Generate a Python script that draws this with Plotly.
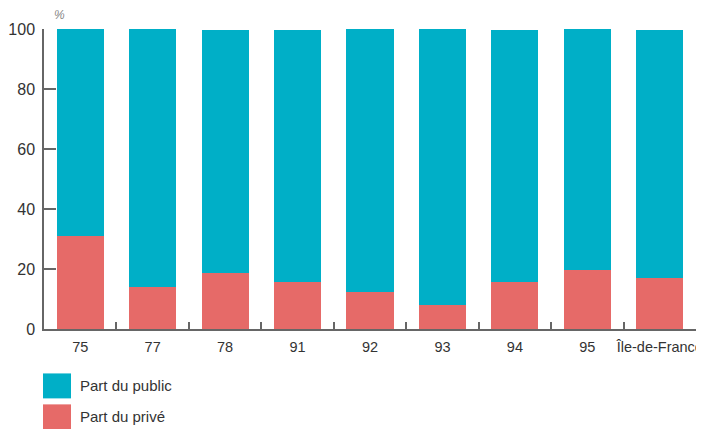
import plotly.graph_objects as go

categories = ["75", "77", "78", "91", "92", "93", "94", "95", "Île-de-France"]
prive = [31.1, 14.0, 18.7, 15.8, 12.4, 8.0, 15.8, 19.8, 17.1]
public = [68.9, 86.0, 81.0, 83.9, 87.6, 92.0, 83.9, 80.2, 82.6]
series_names = ["Part du public", "Part du privé"]
y_ticks = [0, 20, 40, 60, 80, 100]

TEAL = "#00AFC7"
RED = "#E66A68"
FONT = "Liberation Sans, Arial"
TXT = "#333333"
AX = "#666666"

# page body has an 8px default margin; lay out the figure to compensate
OFF = 8
W, H = 704 - OFF, 429 - OFF
ml, mr, mt, mb = 44 - OFF, 7.5, 29 - OFF, 99.5

fig = go.Figure()
fig.add_trace(go.Bar(x=categories, y=prive, name=series_names[1], marker=dict(color=RED, line=dict(width=0)), showlegend=False))
fig.add_trace(go.Bar(x=categories, y=public, name=series_names[0], marker=dict(color=TEAL, line=dict(width=0)), showlegend=False))

fig.update_layout(
    width=W, height=H, barmode="stack", bargap=0.35,
    margin=dict(l=ml, r=mr, t=mt, b=mb, autoexpand=False),
    paper_bgcolor="white", plot_bgcolor="white",
    font=dict(family=FONT, size=16, color=TXT),
)
fig.update_xaxes(
    type="category", showline=True, linecolor=AX, linewidth=1.5,
    ticks="inside", ticklen=7, tickcolor=AX, tickwidth=1.5, tickson="boundaries",
    showgrid=False, tickfont=dict(size=14.5, color=TXT), tickangle=0, automargin=False,
    ticklabelstandoff=4,
)
fig.update_yaxes(
    range=[0, 100], tickvals=y_ticks, showline=True, linecolor=AX, linewidth=1.5,
    ticks="inside", ticklen=12, tickcolor=AX, tickwidth=1.5,
    showgrid=False, zeroline=False, tickfont=dict(size=16, color=TXT), automargin=False,
    ticklabelstandoff=4,
)

pw = W - ml - mr
ph = H - mt - mb
def px(x):  # x in screen pixels of the reference
    return (x - OFF - ml) / pw
def py(y):
    return (H - mb - (y - OFF)) / ph

fig.add_annotation(text="<i>%</i>", xref="paper", yref="paper", x=px(52), y=py(15),
                   xanchor="left", yanchor="middle", showarrow=False,
                   font=dict(size=12, color="#888888", family=FONT))

legend_items = [(series_names[0], TEAL, 374), (series_names[1], RED, 405)]
for name, col, top in legend_items:
    fig.add_shape(type="rect", xref="paper", yref="paper", x0=px(43), x1=px(71), y0=py(top), y1=py(top + 25),
                  fillcolor=col, line=dict(width=0))
    fig.add_annotation(text=name, xref="paper", yref="paper", x=px(78), y=py(top + 12.5),
                       xanchor="left", yanchor="middle", showarrow=False,
                       font=dict(size=15, color=TXT, family=FONT))

fig.write_html("out.html")
